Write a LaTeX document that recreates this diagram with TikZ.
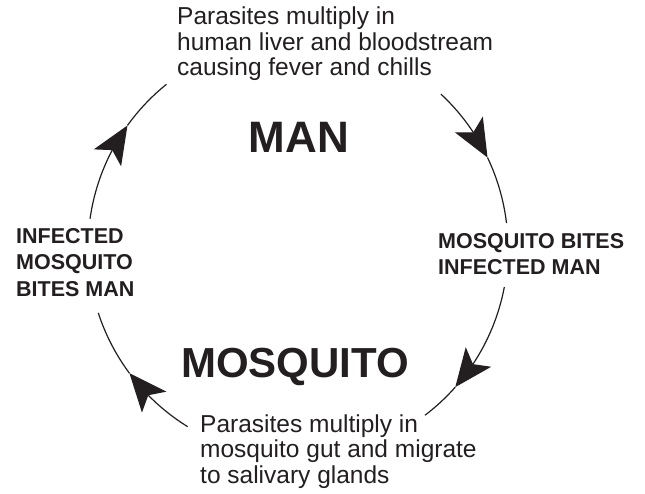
\documentclass[tikz,border=0pt]{standalone}
\usepackage{fontspec}
\setmainfont{Liberation Sans}
\usetikzlibrary{arrows.meta,bending}
\definecolor{ink}{RGB}{35,31,32}
\begin{document}
\begin{tikzpicture}[x=1pt,y=1pt,
  note/.style={font=\fontsize{24.5}{25.5}\selectfont, align=left, inner sep=0pt, anchor=north west, text=ink},
  boldlbl/.style={font=\bfseries\fontsize{21.5}{26.5}\selectfont, align=left, inner sep=0pt, anchor=north west, text=ink},
  big/.style={inner sep=0pt, anchor=base, text=ink},
  cyc/.style={draw=ink, line width=1.2pt},
  tipped/.style={-{Stealth[length=38pt,width=32pt,inset=9pt]}}]
\useasboundingbox (0,0) rectangle (645,493);
\coordinate (c) at (298,245);
% labels
\node[note] (top) at (177,486) {Parasites multiply in\\human liver and bloodstream\\causing fever and chills};
\node[note] (bot) at (200,78.5) {Parasites multiply in\\mosquito gut and migrate\\to salivary glands};
\node[boldlbl] (left) at (16,265) {INFECTED\\MOSQUITO\\BITES MAN};
\node[boldlbl] (right) at (438,260) {MOSQUITO BITES\\INFECTED MAN};
\node[big, font=\bfseries\fontsize{44}{44}\selectfont] (man) at (299,340) {MAN};
\node[big, font=\bfseries\fontsize{42}{42}\selectfont] (mosq) at (295,116) {MOSQUITO};
% arc points
\path (c) ++(172:210) coordinate (a1s) (c) ++(144.3:210) coordinate (a1t) (c) ++(128.8:210) coordinate (a1e);
\path (c) ++(47.1:210) coordinate (a2s) (c) ++(25.5:210) coordinate (a2t) (c) ++(6.8:210) coordinate (a2e);
\path (c) ++(-10.7:210) coordinate (a3s) (c) ++(-41.5:210) coordinate (a3t) (c) ++(-52.8:210) coordinate (a3e);
\path (c) ++(238.3:210) coordinate (a4s) (c) ++(216.6:210) coordinate (a4t) (c) ++(198:210) coordinate (a4e);
% arcs
\draw[cyc,tipped] (a1s) arc[start angle=172, end angle=144.3, radius=210pt];
\draw[cyc] (a1t) arc[start angle=144.3, end angle=128.8, radius=210pt];
\draw[cyc,tipped] (a2s) arc[start angle=47.1, end angle=25.5, radius=210pt];
\draw[cyc] (a2t) arc[start angle=25.5, end angle=6.8, radius=210pt];
\draw[cyc,tipped] (a3s) arc[start angle=-10.7, end angle=-41.5, radius=210pt];
\draw[cyc] (a3t) arc[start angle=-41.5, end angle=-52.8, radius=210pt];
\draw[cyc,tipped] (a4s) arc[start angle=238.3, end angle=216.6, radius=210pt];
\draw[cyc] (a4t) arc[start angle=216.6, end angle=198, radius=210pt];
\end{tikzpicture}
\end{document}
